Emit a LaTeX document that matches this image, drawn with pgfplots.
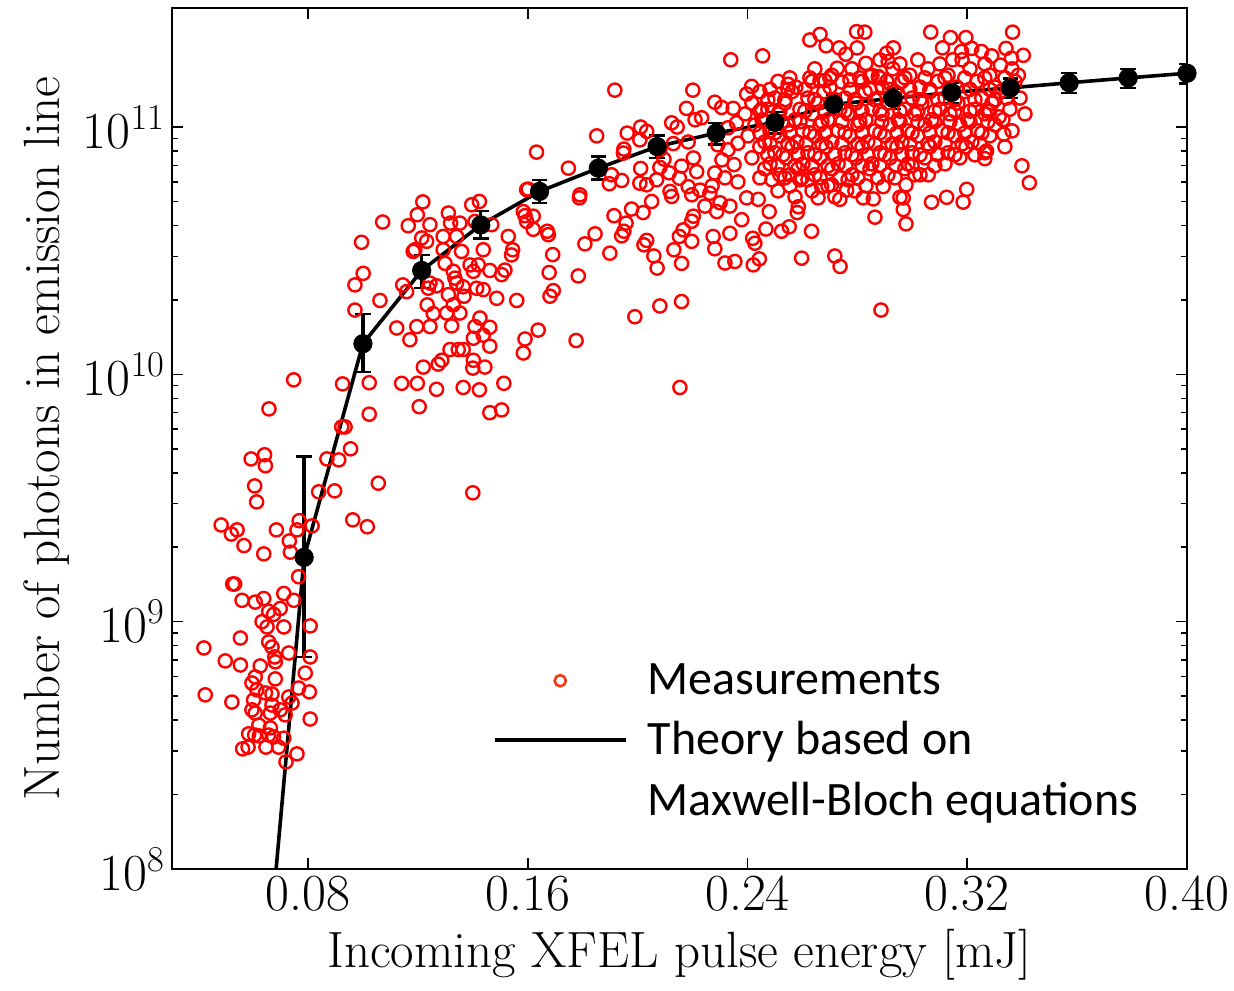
\documentclass[border=0pt]{standalone}
\usepackage{fix-cm}
\usepackage{fontspec}
\newfontfamily\carlito{Carlito}
\usepackage{pgfplots}
\usepackage{pgfplotstable}
\pgfplotsset{compat=1.18}
\definecolor{legred}{RGB}{245,55,20}
\pgfplotstableread{
x y
0.0748 9.50e9
0.0926 9.15e9
0.0658 7.25e9
0.0593 4.55e9
0.0642 4.73e9
0.0645 4.27e9
0.0869 4.55e9
0.0912 4.51e9
0.0606 3.54e9
0.0613 3.05e9
0.0839 3.35e9
0.0897 3.38e9
0.0484 2.46e9
0.0542 2.35e9
0.0521 2.26e9
0.0567 2.03e9
0.0639 1.88e9
0.0685 2.35e9
0.0768 2.56e9
0.0760 2.35e9
0.0815 2.44e9
0.0732 2.12e9
0.0736 1.91e9
0.0766 1.52e9
0.0526 1.42e9
0.0533 1.42e9
0.0560 1.22e9
0.0608 1.20e9
0.0639 1.24e9
0.0712 1.30e9
0.0748 1.22e9
0.0657 1.10e9
0.0675 1.07e9
0.0699 1.13e9
0.0633 1.00e9
0.0651 9.52e8
0.0712 9.52e8
0.0808 9.61e8
0.0554 8.59e8
0.0657 8.28e8
0.0669 7.90e8
0.0421 7.83e8
0.0499 6.94e8
0.0554 6.68e8
0.0626 6.62e8
0.0681 6.88e8
0.0679 7.20e8
0.0730 7.47e8
0.0808 7.20e8
0.0790 6.20e8
0.0608 5.98e8
0.0596 5.65e8
0.0681 5.87e8
0.0614 5.30e8
0.0645 5.15e8
0.0669 5.10e8
0.0766 5.39e8
0.0805 5.20e8
0.0426 5.06e8
0.0523 4.73e8
0.0602 4.82e8
0.0730 4.96e8
0.0742 4.69e8
0.0669 4.60e8
0.0699 4.40e8
0.0596 4.40e8
0.0608 4.27e8
0.0663 4.27e8
0.0717 4.20e8
0.0808 4.04e8
0.0621 3.82e8
0.0663 3.72e8
0.0584 3.52e8
0.0606 3.48e8
0.0623 3.45e8
0.0657 3.48e8
0.0675 3.42e8
0.0712 3.38e8
0.0562 3.06e8
0.0582 3.11e8
0.0647 3.11e8
0.0693 3.11e8
0.0720 2.71e8
0.0760 2.92e8
0.1023 9.25e9
0.1023 6.90e9
0.0923 6.13e9
0.0935 6.13e9
0.0955 5.00e9
0.1056 3.63e9
0.0963 2.58e9
0.1016 2.42e9
0.1400 3.32e9
0.1218 4.98e10
0.1072 4.13e10
0.0995 3.42e10
0.1165 3.99e10
0.1198 4.42e10
0.1244 4.03e10
0.1311 4.49e10
0.1319 4.09e10
0.1353 4.09e10
0.1396 4.85e10
0.1424 5.00e10
0.1408 4.15e10
0.1469 4.03e10
0.1584 4.55e10
0.1596 5.58e10
0.1596 4.15e10
0.1214 3.56e10
0.1232 3.45e10
0.1189 3.19e10
0.1183 3.14e10
0.1292 3.61e10
0.1292 3.19e10
0.1341 3.61e10
0.1359 3.14e10
0.1438 3.19e10
0.1529 3.61e10
0.1545 3.19e10
0.1541 3.04e10
0.1001 2.56e10
0.0971 2.30e10
0.1299 2.81e10
0.1329 2.61e10
0.1390 2.77e10
0.1420 2.77e10
0.1402 2.61e10
0.1462 2.63e10
0.1517 2.64e10
0.1505 2.53e10
0.1335 2.45e10
0.1341 2.34e10
0.1244 2.34e10
0.1268 2.28e10
0.1145 2.30e10
0.1159 2.16e10
0.1238 2.23e10
0.1365 2.26e10
0.1414 2.23e10
0.1438 2.20e10
0.1311 2.10e10
0.1368 2.07e10
0.1487 2.03e10
0.1560 1.99e10
0.1062 1.99e10
0.0971 1.82e10
0.1234 1.91e10
0.1256 1.76e10
0.1305 1.77e10
0.1353 1.77e10
0.1329 1.91e10
0.1426 1.69e10
0.1408 1.56e10
0.1462 1.55e10
0.1123 1.54e10
0.1196 1.56e10
0.1244 1.56e10
0.1323 1.57e10
0.1171 1.38e10
0.1402 1.40e10
0.1438 1.44e10
0.1462 1.30e10
0.1590 1.39e10
0.1584 1.22e10
0.1317 1.26e10
0.1347 1.26e10
0.1365 1.26e10
0.1287 1.14e10
0.1274 1.10e10
0.1402 1.14e10
0.1444 1.07e10
0.1400 1.06e10
0.1220 1.07e10
0.1141 9.20e9
0.1198 9.20e9
0.1268 8.70e9
0.1365 8.85e9
0.1424 8.66e9
0.1513 9.20e9
0.1205 7.40e9
0.1462 7.00e9
0.1505 7.18e9
0.1917 1.41e11
0.2201 1.41e11
0.2178 1.19e11
0.2209 1.07e11
0.1851 9.21e10
0.1632 7.92e10
0.1748 6.82e10
0.1962 9.45e10
0.2011 1.00e11
0.2033 9.60e10
0.2008 8.87e10
0.2124 1.04e11
0.2144 1.00e11
0.1950 8.14e10
0.1948 7.85e10
0.2081 8.09e10
0.2130 8.57e10
0.2184 8.70e10
0.2203 7.50e10
0.2096 7.42e10
0.2011 6.80e10
0.2081 6.87e10
0.2115 6.53e10
0.2160 6.95e10
0.2215 6.60e10
0.1905 6.41e10
0.1897 5.90e10
0.1942 6.08e10
0.2008 5.93e10
0.2033 5.84e10
0.2069 6.12e10
0.2152 6.21e10
0.2184 5.74e10
0.2197 5.32e10
0.2118 5.49e10
0.2124 5.24e10
0.1602 5.61e10
0.1790 5.32e10
0.1788 5.17e10
0.2051 5.00e10
0.1978 4.66e10
0.2020 4.51e10
0.1914 4.38e10
0.1958 4.09e10
0.1950 3.79e10
0.1942 3.63e10
0.2203 4.36e10
0.2197 4.16e10
0.2166 3.84e10
0.2152 3.61e10
0.2197 3.45e10
0.2033 3.48e10
0.2023 3.34e10
0.1845 3.70e10
0.1808 3.37e10
0.2132 3.19e10
0.2059 3.01e10
0.2071 2.69e10
0.2160 2.81e10
0.1899 3.09e10
0.1590 4.38e10
0.1620 4.36e10
0.1620 3.86e10
0.1671 3.79e10
0.1675 3.67e10
0.1691 3.05e10
0.1678 2.58e10
0.1693 2.18e10
0.1681 2.07e10
0.1784 2.50e10
0.2081 1.89e10
0.2160 1.97e10
0.1990 1.71e10
0.1638 1.51e10
0.1776 1.37e10
0.2154 8.85e9
0.2339 1.87e11
0.2281 1.26e11
0.2306 1.20e11
0.2348 1.19e11
0.2233 1.09e11
0.2360 1.04e11
0.2455 1.94e11
0.2627 2.25e11
0.2664 2.37e11
0.2686 2.13e11
0.2734 2.09e11
0.2758 1.97e11
0.2797 2.43e11
0.2827 2.42e11
0.2799 2.09e11
0.2831 1.81e11
0.2727 1.73e11
0.2907 1.99e11
0.2931 2.09e11
0.2912 1.84e11
0.2664 1.54e11
0.2682 1.54e11
0.2743 1.52e11
0.2773 1.55e11
0.2548 1.49e11
0.2415 1.46e11
0.2397 1.36e11
0.2846 1.60e11
0.2876 1.60e11
0.2907 1.53e11
0.2452 1.18e11
0.3067 2.42e11
0.3139 2.30e11
0.3195 2.30e11
0.3110 2.09e11
0.3365 2.42e11
0.3179 2.02e11
0.3216 2.08e11
0.3252 2.02e11
0.3289 1.94e11
0.3341 2.08e11
0.3404 1.95e11
0.3361 1.90e11
0.3321 1.78e11
0.3386 1.62e11
0.3147 1.87e11
0.3273 1.16e11
0.3316 1.10e11
0.3333 9.36e10
0.3343 1.31e11
0.3399 6.97e10
0.3426 5.95e10
0.3198 5.60e10
0.3125 5.20e10
0.3070 4.97e10
0.3185 4.97e10
0.3009 6.41e10
0.3058 6.41e10
0.2977 5.84e10
0.2967 5.17e10
0.2967 4.64e10
0.2977 4.06e10
0.3264 7.45e10
0.3270 8.00e10
0.2864 4.32e10
0.2633 3.79e10
0.2467 3.87e10
0.2524 3.79e10
0.2552 3.95e10
0.2419 3.55e10
0.2427 3.39e10
0.2597 2.95e10
0.2718 3.01e10
0.2737 2.73e10
0.2443 2.93e10
0.2421 2.77e10
0.2379 4.22e10
0.2955 5.20e10
0.2479 4.55e10
0.2581 4.51e10
0.2585 4.76e10
0.2397 5.17e10
0.2439 5.10e10
0.2657 5.17e10
0.2736 5.10e10
0.2821 5.17e10
0.2858 5.12e10
0.2894 5.74e10
0.2670 5.74e10
0.2706 5.84e10
0.2761 5.56e10
0.2591 6.12e10
0.2554 6.41e10
0.2245 4.79e10
0.2288 4.55e10
0.2275 3.61e10
0.2281 3.22e10
0.2336 3.72e10
0.2318 2.82e10
0.2354 2.86e10
0.2263 5.40e10
0.2300 4.94e10
0.2336 4.79e10
0.2281 6.52e10
0.2292 8.47e10
0.2329 8.09e10
0.2365 8.60e10
0.2307 7.37e10
0.2351 7.05e10
0.2318 6.23e10
0.2365 6.00e10
0.2271 5.78e10
0.2227 5.56e10
0.2886 1.82e10
0.2329 9.93e10
0.2882 1.87e11
0.2955 1.80e11
0.3020 1.87e11
0.3100 1.80e11
0.3181 1.87e11
0.3264 1.80e11
0.2645 1.72e11
0.2707 1.62e11
0.2780 1.72e11
0.2853 1.62e11
0.2929 1.72e11
0.2991 1.62e11
0.3057 1.72e11
0.3130 1.62e11
0.3210 1.72e11
0.3282 1.62e11
0.3363 1.72e11
0.2511 1.53e11
0.2576 1.45e11
0.2635 1.53e11
0.2700 1.45e11
0.2817 1.53e11
0.2890 1.45e11
0.2962 1.53e11
0.3028 1.45e11
0.3093 1.53e11
0.3162 1.45e11
0.3235 1.53e11
0.3301 1.45e11
0.3374 1.53e11
0.2445 1.39e11
0.2500 1.31e11
0.2562 1.39e11
0.2620 1.31e11
0.2678 1.39e11
0.2755 1.31e11
0.2828 1.39e11
0.2875 1.31e11
0.2937 1.39e11
0.2999 1.31e11
0.3064 1.39e11
0.3119 1.31e11
0.3191 1.39e11
0.3253 1.31e11
0.3319 1.39e11
0.3392 1.31e11
0.2416 1.25e11
0.2474 1.18e11
0.2536 1.25e11
0.2591 1.18e11
0.2656 1.25e11
0.2736 1.18e11
0.2795 1.25e11
0.2853 1.18e11
0.2911 1.25e11
0.2973 1.18e11
0.3035 1.25e11
0.3100 1.18e11
0.3166 1.25e11
0.3228 1.18e11
0.3290 1.25e11
0.3355 1.18e11
0.2391 1.13e11
0.2453 1.07e11
0.2511 1.13e11
0.2573 1.07e11
0.2635 1.13e11
0.2693 1.07e11
0.2766 1.13e11
0.2831 1.07e11
0.2890 1.13e11
0.2948 1.07e11
0.3009 1.13e11
0.3071 1.07e11
0.3137 1.13e11
0.3202 1.07e11
0.3264 1.13e11
0.3330 1.07e11
0.3410 1.13e11
0.2427 1.02e11
0.2482 9.65e10
0.2548 1.02e11
0.2602 9.65e10
0.2664 1.02e11
0.2730 9.65e10
0.2802 1.02e11
0.2864 9.65e10
0.2919 1.02e11
0.2984 9.65e10
0.3046 1.02e11
0.3108 9.65e10
0.3173 1.02e11
0.3239 9.65e10
0.3301 1.02e11
0.3363 9.65e10
0.2402 9.21e10
0.2463 8.71e10
0.2518 9.21e10
0.2580 8.71e10
0.2645 9.21e10
0.2707 8.71e10
0.2773 9.21e10
0.2838 8.71e10
0.2900 9.21e10
0.2962 8.71e10
0.3020 9.21e10
0.3082 8.71e10
0.3155 9.21e10
0.3217 8.71e10
0.3282 9.21e10
0.2445 8.32e10
0.2500 7.87e10
0.2562 8.32e10
0.2620 7.87e10
0.2686 8.32e10
0.2755 7.87e10
0.2817 8.32e10
0.2882 7.87e10
0.2944 8.32e10
0.2999 7.87e10
0.3064 8.32e10
0.3130 7.87e10
0.3195 8.32e10
0.3264 7.87e10
0.3337 8.32e10
0.2416 7.51e10
0.2482 7.10e10
0.2540 7.51e10
0.2602 7.10e10
0.2664 7.51e10
0.2730 7.10e10
0.2795 7.51e10
0.2853 7.10e10
0.2919 7.51e10
0.2984 7.10e10
0.3046 7.51e10
0.3119 7.10e10
0.3173 7.51e10
0.2463 6.78e10
0.2518 6.41e10
0.2584 6.78e10
0.2645 6.41e10
0.2707 6.78e10
0.2780 6.41e10
0.2846 6.78e10
0.2911 6.41e10
0.2973 6.78e10
0.3028 6.41e10
0.2489 6.12e10
0.2554 5.78e10
0.2620 6.12e10
0.2693 5.78e10
0.2766 6.12e10
0.2831 5.78e10
0.2511 5.52e10
0.2573 5.22e10
0.2635 5.52e10
0.2718 5.22e10
0.2791 5.52e10
0.2554 1.58e11
0.2627 1.58e11
0.2700 1.58e11
0.2809 1.58e11
0.2882 1.58e11
0.2973 1.58e11
0.3046 1.58e11
0.3119 1.58e11
0.3191 1.58e11
0.3264 1.58e11
0.3337 1.58e11
0.2482 1.42e11
0.2547 1.42e11
0.2609 1.42e11
0.2773 1.42e11
0.2846 1.42e11
0.2918 1.42e11
0.2991 1.42e11
0.3064 1.42e11
0.3137 1.42e11
0.3210 1.42e11
0.3282 1.42e11
0.2474 1.29e11
0.2536 1.29e11
0.2645 1.29e11
0.2718 1.29e11
0.2791 1.29e11
0.2864 1.29e11
0.2937 1.29e11
0.3028 1.29e11
0.3093 1.29e11
0.3155 1.29e11
0.3228 1.29e11
0.3301 1.29e11
0.2445 1.16e11
0.2518 1.16e11
0.2609 1.16e11
0.2682 1.16e11
0.2755 1.16e11
0.2817 1.16e11
0.2882 1.16e11
0.2955 1.16e11
0.3020 1.16e11
0.3082 1.16e11
0.3155 1.16e11
0.3210 1.16e11
0.3282 1.16e11
0.2463 1.05e11
0.2525 1.05e11
0.2591 1.05e11
0.2671 1.05e11
0.2744 1.05e11
0.2809 1.05e11
0.2889 1.05e11
0.2955 1.05e11
0.3020 1.05e11
0.3082 1.05e11
0.3137 1.05e11
0.3210 1.05e11
0.3275 1.05e11
0.2445 9.47e10
0.2500 9.47e10
0.2554 9.47e10
0.2627 9.47e10
0.2682 9.47e10
0.2755 9.47e10
0.2817 9.47e10
0.2882 9.47e10
0.2944 9.47e10
0.2999 9.47e10
0.3064 9.47e10
0.3130 9.47e10
0.3191 9.47e10
0.3253 9.47e10
0.2482 8.55e10
0.2547 8.55e10
0.2613 8.55e10
0.2671 8.55e10
0.2744 8.55e10
0.2802 8.55e10
0.2864 8.55e10
0.2926 8.55e10
0.2991 8.55e10
0.3057 8.55e10
0.3119 8.55e10
0.3181 8.55e10
0.3246 8.55e10
0.2474 7.72e10
0.2529 7.72e10
0.2584 7.72e10
0.2645 7.72e10
0.2718 7.72e10
0.2780 7.72e10
0.2838 7.72e10
0.2900 7.72e10
0.2962 7.72e10
0.3028 7.72e10
0.3093 7.72e10
0.3155 7.72e10
0.3228 7.72e10
0.2511 6.97e10
0.2573 6.97e10
0.2635 6.97e10
0.2693 6.97e10
0.2758 6.97e10
0.2817 6.97e10
0.2882 6.97e10
0.2940 6.97e10
0.2999 6.97e10
0.3082 6.97e10
0.2445 6.23e10
0.2536 6.23e10
0.2598 6.23e10
0.2664 6.23e10
0.2736 6.23e10
0.2802 6.23e10
0.2875 6.23e10
0.2937 6.23e10
}\meas
\begin{document}
\begin{tikzpicture}
\begin{axis}[
  scale only axis, width=507.5pt, height=430.5pt,
  xmin=0.0305, xmax=0.40, ymin=1e8, ymax=3.03e11,
  ymode=log,
  xtick={0.08,0.16,0.24,0.32,0.40},
  xticklabels={0.08,0.16,0.24,0.32,0.40},
  ytick={1e8,1e9,1e10,1e11},
  tick align=inside,
  major tick length=5.5pt, minor tick length=3.2pt,
  every tick/.style={black, line width=0.8pt},
  axis line style={line width=1.4pt},
  tick label style={font=\fontsize{26}{30}\selectfont},
  label style={font=\fontsize{25.5}{30}\selectfont},
  xlabel style={yshift=-2pt},
  xlabel={Incoming XFEL pulse energy [mJ]},
  ylabel={Number of photons in emission line},
  legend style={draw=none, fill=none, at={(0.3156,0.2457)}, anchor=north west,
    font=\carlito\fontsize{24}{28}\selectfont, inner sep=0pt,
    nodes={inner ysep=3pt, inner xsep=4pt}, row sep=6pt,
    /tikz/every odd column/.append style={column sep=6pt}},
  legend cell align=left,
]
\coordinate (sw) at (rel axis cs:0,0);
\addplot[only marks, mark=o, mark size=3.3pt, mark options={draw=red, line width=1.2pt}, forget plot] table[x=x,y=y] {\meas};
\addplot[black, line width=1.8pt, forget plot] coordinates {
(0.0684,1e8) (0.0786,1.82e9) (0.1000,1.33e10) (0.1214,2.63e10) (0.1429,4.02e10)
(0.1643,5.49e10) (0.1857,6.82e10) (0.2071,8.34e10) (0.2286,9.45e10) (0.2500,1.045e11)
(0.2714,1.235e11) (0.2929,1.306e11) (0.3143,1.38e11) (0.3357,1.44e11) (0.3571,1.51e11)
(0.3786,1.58e11) (0.4000,1.65e11)};
\addplot[only marks, mark=*, mark size=4.6pt, black, forget plot,
  error bars/.cd, y dir=both, y explicit,
  error bar style={line width=1.7pt, black},
  error mark options={rotate=90, mark size=3.9pt, line width=1.2pt, black}] coordinates {
(0.0786,1.82e9) += (0,2.84e9) -= (0,1.10e9)
(0.1000,1.33e10) += (0,4.2e9) -= (0,3.1e9)
(0.1214,2.63e10) += (0,4.0e9) -= (0,4.0e9)
(0.1429,4.02e10) += (0,5.5e9) -= (0,4.8e9)
(0.1643,5.49e10) += (0,6.1e9) -= (0,5.5e9)
(0.1857,6.82e10) += (0,7.7e9) -= (0,6.8e9)
(0.2071,8.34e10) += (0,9.1e9) -= (0,8.3e9)
(0.2286,9.45e10) += (0,9.5e9) -= (0,9.5e9)
(0.2500,1.045e11) += (0,1.05e10) -= (0,1.05e10)
(0.2714,1.235e11) += (0,1.15e10) -= (0,1.15e10)
(0.2929,1.306e11) += (0,1.25e10) -= (0,1.25e10)
(0.3143,1.38e11) += (0,1.3e10) -= (0,1.3e10)
(0.3357,1.44e11) += (0,1.3e10) -= (0,1.3e10)
(0.3571,1.51e11) += (0,1.4e10) -= (0,1.4e10)
(0.3786,1.58e11) += (0,1.4e10) -= (0,1.4e10)
(0.4000,1.65e11) += (0,1.5e10) -= (0,1.5e10)
};
\addlegendimage{legend image code/.code={\draw[only marks, mark=o, mark size=2.8pt, mark options={draw=legred, line width=1.3pt}] plot coordinates {(32.75pt,0pt)};}}
\addlegendentry{Measurements}
\addlegendimage{legend image code/.code={\draw[black, line width=2pt] (0pt,0pt) -- (65.5pt,0pt);}}
\addlegendentry{Theory based on}
\addlegendimage{legend image code/.code={\path[draw=none] (0pt,0pt) -- (65.5pt,0pt);}}
\addlegendentry{Maxwell-Bloch equations}
\end{axis}
\pgfresetboundingbox
\path (sw) ++(-86pt,-60.5pt) rectangle ++(617pt,495pt);
\end{tikzpicture}
\end{document}
